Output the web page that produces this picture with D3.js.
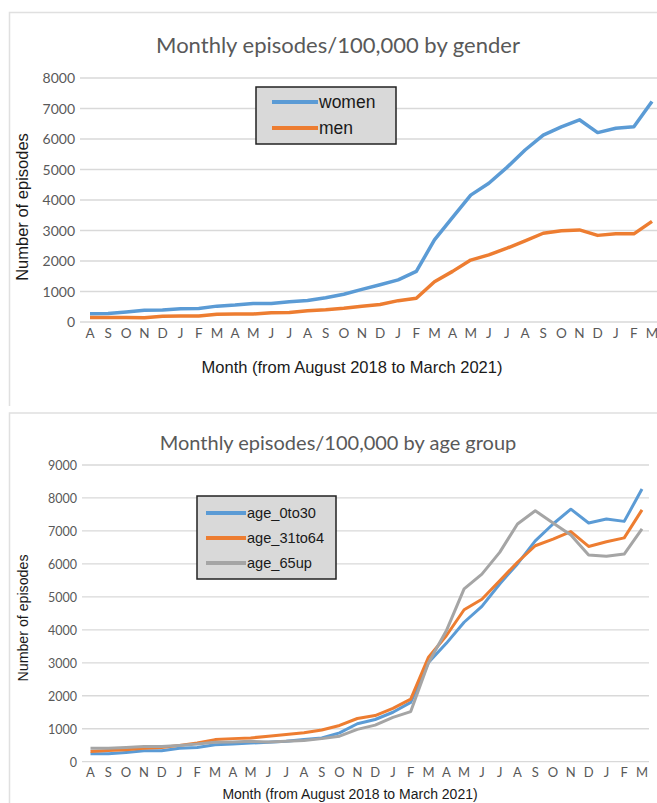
<!DOCTYPE html>
<html>
<head>
<meta charset="utf-8">
<script src="https://cdn.jsdelivr.net/npm/d3@7"></script>
<style>
  body { margin: 0; background: #fff; }
  svg { display: block; }
</style>
</head>
<body>
<div class="board"></div>
<script>
// data (Aug 2018 .. Mar 2021)
var months = ["A","S","O","N","D","J","F","M","A","M","J","J","A","S","O","N",
              "D","J","F","M","A","M","J","J","A","S","O","N","D","J","F","M"];

var women = [270,280,330,385,390,435,440,520,555,605,610,665,705,795,910,1070,
             1220,1380,1660,2690,3430,4160,4550,5070,5640,6130,6400,6630,6210,6350,6400,7230];
var men = [145,145,150,140,190,200,200,255,260,260,305,310,365,400,450,520,
           575,700,780,1320,1660,2030,2200,2420,2660,2910,2990,3020,2840,2890,2890,3300];

var age0to30 = [240,240,280,330,330,410,430,515,535,565,590,620,670,720,875,1150,
                1280,1500,1800,3010,3590,4230,4710,5390,6000,6700,7210,7660,7240,7360,7290,8270];
var age31to64 = [310,340,360,410,430,495,565,670,700,720,775,825,875,960,1100,1310,
                 1400,1620,1900,3170,3820,4610,4930,5490,6050,6550,6750,6980,6530,6670,6790,7640];
var age65up = [410,410,430,460,460,495,535,590,600,620,600,620,640,700,775,980,
               1110,1345,1520,3000,3970,5240,5690,6350,7210,7610,7240,6880,6270,6230,6300,7060];

var yTicks1 = d3.range(0, 8001, 1000);
var yTicks2 = d3.range(0, 9001, 1000);

var colors = { blue: '#5b9bd5', orange: '#ed7d31', gray: '#a5a5a5' };

var svg = d3.select('.board')
  .append('svg')
  .attr('width', 657)
  .attr('height', 803);

var drawChart = function(c) {
  var g = svg.append('g');

  // outer frame: only top and left edges show inside the picture
  g.append('path')
    .attr('d', 'M9.5,' + c.frameBottom + 'V' + c.frameTop + 'H657')
    .attr('fill', 'none')
    .attr('stroke', '#e0e0e0')
    .attr('stroke-width', 1.5);

  var x = d3.scalePoint()
    .domain(d3.range(months.length))
    .range(c.xRange);

  var y = d3.scaleLinear()
    .domain([0, c.yMax])
    .range(c.yRange);

  // gridlines
  g.selectAll('.grid')
    .data(c.ticks)
    .enter()
    .append('line')
    .attr('x1', c.gridX[0]).attr('x2', c.gridX[1])
    .attr('y1', function(d) { return y(d); })
    .attr('y2', function(d) { return y(d); })
    .attr('stroke', '#d9d9d9')
    .attr('stroke-width', 1.3);

  // y tick labels
  g.selectAll('.ylab')
    .data(c.ticks)
    .enter()
    .append('text')
    .attr('x', c.yLabX)
    .attr('y', function(d) { return y(d) + 5; })
    .attr('text-anchor', 'end')
    .attr('font-family', 'Lato, sans-serif')
    .attr('font-size', c.yTickSize)
    .attr('fill', '#595959')
    .text(function(d) { return d; });

  // x tick labels
  g.selectAll('.xlab')
    .data(months)
    .enter()
    .append('text')
    .attr('x', function(d, i) { return x(i); })
    .attr('y', c.xLabY)
    .attr('text-anchor', 'middle')
    .attr('font-family', 'Lato, sans-serif')
    .attr('font-size', c.tickSize)
    .attr('fill', '#595959')
    .text(function(d) { return d; });

  var line = d3.line()
    .x(function(d, i) { return x(i); })
    .y(function(d) { return y(d); });

  c.series.forEach(function(s) {
    g.append('path')
      .datum(s.values)
      .attr('d', line)
      .attr('fill', 'none')
      .attr('stroke', s.color)
      .attr('stroke-width', c.lineW)
      .attr('stroke-linejoin', 'round');
  });

  // titles
  g.append('text')
    .attr('x', 338).attr('y', c.titleY)
    .attr('text-anchor', 'middle')
    .attr('font-family', 'Lato, sans-serif')
    .attr('font-size', c.titleSize)
    .attr('fill', '#595959')
    .text(c.title);

  g.append('text')
    .attr('x', c.xTitleX).attr('y', c.xTitleY)
    .attr('text-anchor', 'middle')
    .attr('font-family', '"Liberation Sans", Arial, sans-serif')
    .attr('font-size', c.axisSize)
    .attr('fill', '#1a1a1a')
    .text('Month (from August 2018 to March 2021)');

  g.append('text')
    .attr('transform', 'translate(' + c.yTitleX + ',' + c.yTitleY + ') rotate(-90)')
    .attr('text-anchor', 'middle')
    .attr('font-family', '"Liberation Sans", Arial, sans-serif')
    .attr('font-size', c.yAxisSize)
    .attr('fill', '#1a1a1a')
    .text('Number of episodes');

  // legend
  var lg = g.append('g');
  lg.append('rect')
    .attr('x', c.legend.x).attr('y', c.legend.y)
    .attr('width', c.legend.w).attr('height', c.legend.h)
    .attr('fill', '#d9d9d9')
    .attr('stroke', '#222')
    .attr('stroke-width', 1.5);

  c.series.forEach(function(s, i) {
    var ly = c.legend.rowY[i];
    lg.append('line')
      .attr('x1', c.legend.lx[0]).attr('x2', c.legend.lx[1])
      .attr('y1', ly).attr('y2', ly)
      .attr('stroke', s.color)
      .attr('stroke-width', 4);
    lg.append('text')
      .attr('x', c.legend.lx[1] + 1)
      .attr('y', ly + c.legend.dy)
      .attr('font-family', '"Liberation Sans", Arial, sans-serif')
      .attr('font-size', c.legend.size)
      .attr('fill', '#1a1a1a')
      .text(s.name);
  });
};

drawChart({
  title: 'Monthly episodes/100,000 by gender',
  frameTop: 12.5, frameBottom: 406,
  xRange: [90, 652], gridX: [80, 657],
  yMax: 8000, yRange: [322, 78], ticks: yTicks1,
  yLabX: 75, xLabY: 338, tickSize: 13.5, yTickSize: 14,
  lineW: 3.5,
  titleY: 53, titleSize: 22,
  xTitleX: 352, xTitleY: 373, axisSize: 16.5,
  yTitleX: 28, yTitleY: 207, yAxisSize: 16.5,
  series: [
    { name: 'women', values: women, color: colors.blue },
    { name: 'men', values: men, color: colors.orange }
  ],
  legend: { x: 256, y: 87, w: 140, h: 57, lx: [272, 318], rowY: [102, 128], dy: 6, size: 17.5 }
});

drawChart({
  title: 'Monthly episodes/100,000 by age group',
  frameTop: 413, frameBottom: 803,
  xRange: [90.5, 642], gridX: [82, 649],
  yMax: 9000, yRange: [761.7, 465], ticks: yTicks2,
  yLabX: 77, xLabY: 777, tickSize: 13, yTickSize: 12.5,
  lineW: 3,
  titleY: 450, titleSize: 20,
  xTitleX: 350, xTitleY: 799, axisSize: 14,
  yTitleX: 27.5, yTitleY: 618, yAxisSize: 14.2,
  series: [
    { name: 'age_0to30', values: age0to30, color: colors.blue },
    { name: 'age_31to64', values: age31to64, color: colors.orange },
    { name: 'age_65up', values: age65up, color: colors.gray }
  ],
  legend: { x: 197, y: 496, w: 139, h: 83, lx: [206, 246], rowY: [513, 538, 563], dy: 5, size: 14.6 }
});
</script>
</body>
</html>
